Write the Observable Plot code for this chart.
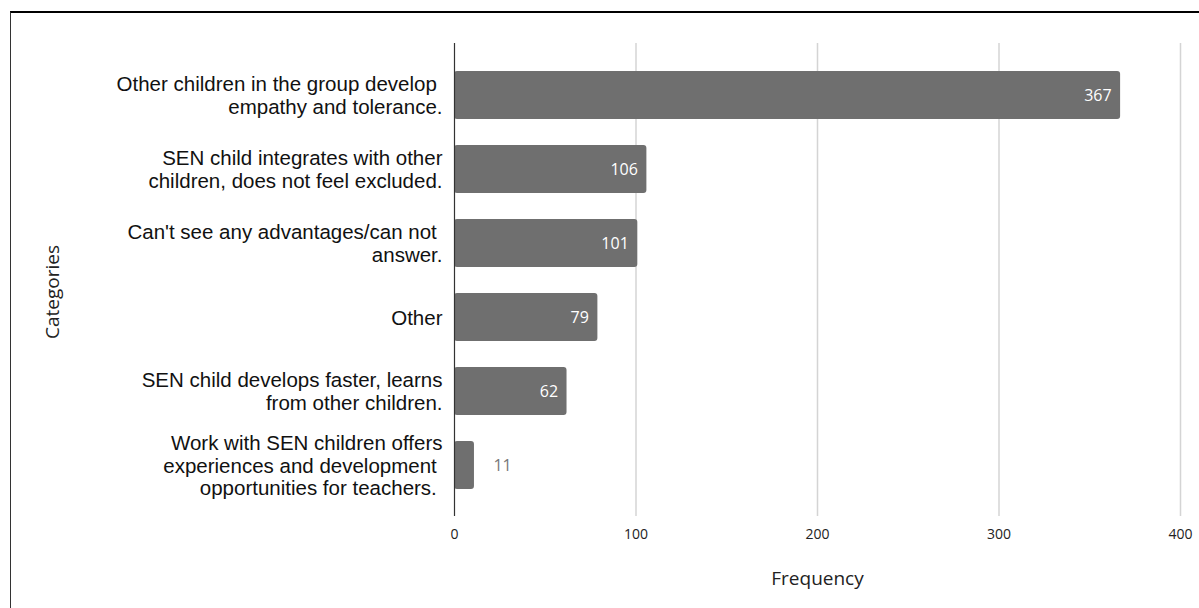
<!DOCTYPE html>
<html>
<head>
<meta charset="utf-8">
<script src="https://cdn.jsdelivr.net/npm/d3@7"></script>
<script src="https://cdn.jsdelivr.net/npm/@observablehq/plot@0.6"></script>
<style>
  html, body { margin: 0; padding: 0; background: #fff; overflow: hidden; }
  #wrap { position: relative; width: 1199px; height: 608px; }
  #frame { position: absolute; left: 10px; top: 11px; width: 1200px; height: 620px;
           border-top: 2px solid #000; border-left: 1px solid #333; }
  #chart { position: absolute; left: 0; top: 0; }
</style>
</head>
<body>
<div id="wrap">
  <div id="frame"></div>
  <div id="chart"></div>
</div>
<script>
const categories = [
  "Other children in the group develop\u00a0\nempathy and tolerance.",
  "SEN child integrates with other\nchildren, does not feel excluded.",
  "Can't see any advantages/can not\u00a0\nanswer.",
  "Other",
  "SEN child develops faster, learns\nfrom other children.",
  "Work with SEN children offers\nexperiences and development\u00a0\nopportunities for teachers.\u00a0"
];
const frequencies = [367, 106, 101, 79, 62, 11];
const xTicks = [0, 100, 200, 300, 400];
const xLabel = "Frequency";
const yLabel = "Categories";

const data = categories.map((c, i) => ({category: c, value: frequencies[i]}));

const chart = Plot.plot({
  width: 1199,
  height: 608,
  marginTop: 43,
  marginBottom: 92,
  marginLeft: 454,
  marginRight: 19,
  style: {background: "transparent", overflow: "visible"},
  x: {domain: [0, 400], ticks: xTicks},
  y: {domain: categories, paddingInner: 0.354, paddingOuter: 0.36},
  marks: [
    Plot.gridX(xTicks.filter(d => d > 0), {stroke: "#d4d4d4", strokeWidth: 1.5, strokeOpacity: 1}),
    Plot.barX(data, {y: "category", x: "value", fill: "#6f6f6f", rx: 3}),
    Plot.ruleX([0], {stroke: "#333", strokeWidth: 1.2}),
    Plot.text(data.filter(d => d.value >= 30), {
      y: "category", x: "value", text: d => String(d.value),
      textAnchor: "end", dx: -9, fill: "#fff",
      fontFamily: "Open Sans", fontSize: 16
    }),
    Plot.text(data.filter(d => d.value < 30), {
      y: "category", x: "value", text: d => String(d.value),
      textAnchor: "start", dx: 19, fill: "#777",
      fontFamily: "Open Sans", fontSize: 16
    }),
    Plot.text(data, {
      y: "category", x: 0, text: "category",
      textAnchor: "end", dx: -12, fill: "#111",
      fontFamily: "Liberation Sans", fontSize: 20.5, lineHeight: 1.1
    }),
    Plot.axisX({ticks: xTicks, tickSize: 0, tickPadding: 13, label: null,
      fontFamily: "Open Sans", fontSize: 14, fill: "#222"}),
    Plot.axisY({ticks: [], label: null}),
    Plot.text([xLabel], {frameAnchor: "bottom", lineAnchor: "middle", textAnchor: "middle",
      dy: 62, text: d => d,
      fontFamily: "Open Sans", fontSize: 19, fill: "#222"}),
    Plot.text([yLabel], {frameAnchor: "left", textAnchor: "middle", lineAnchor: "middle",
      dx: -402, dy: 12, rotate: -90, text: d => d,
      fontFamily: "Open Sans", fontSize: 19, fill: "#222"})
  ]
});
document.getElementById("chart").appendChild(chart);
</script>
</body>
</html>
